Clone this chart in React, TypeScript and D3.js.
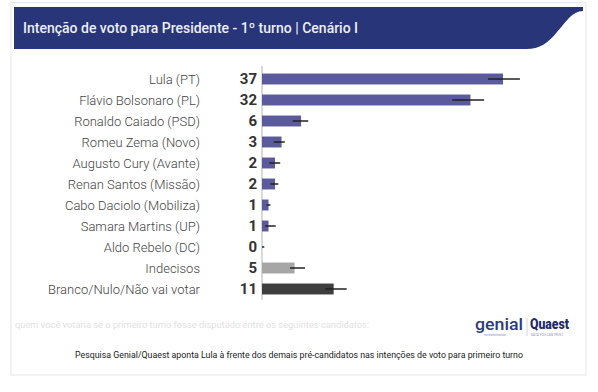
import * as d3 from 'd3'

const candidates = [
  'Lula (PT)',
  'Flávio Bolsonaro (PL)',
  'Ronaldo Caiado (PSD)',
  'Romeu Zema (Novo)',
  'Augusto Cury (Avante)',
  'Renan Santos (Missão)',
  'Cabo Daciolo (Mobiliza)',
  'Samara Martins (UP)',
  'Aldo Rebelo (DC)',
  'Indecisos',
  'Branco/Nulo/Não vai votar',
]
const values = [37, 32, 6, 3, 2, 2, 1, 1, 0, 5, 11]
const errLow = [34.7, 29.2, 4.7, 1.8, 1.1, 1.3, 0.7, 0.5, 0, 4.3, 9.7]
const errHigh = [39.6, 34.1, 7.1, 3.5, 2.8, 2.5, 1.3, 2.1, 0.35, 6.6, 13.0]
const barKind = ['c', 'c', 'c', 'c', 'c', 'c', 'c', 'c', 'c', 'undecided', 'blank']

const title = 'Intenção de voto para Presidente - 1º turno | Cenário I'
const question = 'quem você votaria se o primeiro turno fosse disputado entre os seguintes candidatos:'
const caption =
  'Pesquisa Genial/Quaest aponta Lula à frente dos demais pré-candidatos nas intenções de voto para primeiro turno'

const W = 598
const H = 392
const font = 'Roboto, "Noto Sans", sans-serif'

const colors: Record<string, string> = {
  c: '#5b5a9c',
  undecided: '#a6a6a6',
  blank: '#3e3e3e',
}

export default function App() {
  const x = d3.scaleLinear().domain([0, 37]).range([262, 503])
  const y = d3
    .scaleBand<string>()
    .domain(candidates)
    .range([68.5, 299.5])
    .paddingInner(0.48)
    .paddingOuter(0.24)
  const bw = y.bandwidth()

  // navy header with the wave on the right
  const header = d3.path()
  header.moveTo(14, 7)
  header.lineTo(583, 7)
  header.lineTo(583, 11)
  header.bezierCurveTo(572, 11, 566, 22, 557, 32)
  header.bezierCurveTo(548, 43, 540, 49, 526, 49)
  header.lineTo(14, 49)
  header.closePath()

  return (
    <svg
      width={W}
      height={H}
      style={{ position: 'absolute', left: 0, top: 0, background: '#fff' }}
      fontFamily={font}
    >
      <rect x={11} y={2.5} width={575} height={372.5} fill="#fff" stroke="#e6e6e6" />
      <path d={header.toString()} fill="#283579" />
      <text x={23} y={33} fill="#eceef6" fontSize={14} fontWeight={500}>
        {title}
      </text>

      {/* axis line */}
      <line x1={x(0)} x2={x(0)} y1={66} y2={300} stroke="#cccccc" strokeWidth={1.5} />

      {candidates.map((c, i) => {
        const cy = (y(c) ?? 0) + bw / 2
        return (
          <g key={c}>
            <text x={200} y={cy} dy="0.36em" textAnchor="end" fill="#444" fontSize={13} fontWeight={300}>
              {c}
            </text>
            <text
              x={257}
              y={cy}
              dy="0.36em"
              textAnchor="end"
              fill="#333"
              fontSize={15}
              fontWeight={700}
            >
              {values[i]}
            </text>
            <rect
              x={x(0)}
              y={y(c)}
              width={x(values[i]) - x(0)}
              height={bw}
              fill={colors[barKind[i]]}
            />
            <line
              x1={x(errLow[i])}
              x2={x(errHigh[i])}
              y1={cy}
              y2={cy}
              stroke="#222"
              strokeWidth={1.5}
            />
          </g>
        )
      })}

      <text x={15} y={328} fill="#e2e2e2" fontSize={9.3}>
        {question}
      </text>

      {/* logos */}
      <text x={475} y={330} fill="#2b3b80" fontSize={17} fontWeight={500} textLength={48} lengthAdjust="spacingAndGlyphs">
        genial
      </text>
      <text x={484} y={335.5} fill="#8a90b0" fontSize={3.5}>
        investimentos
      </text>
      <line x1={527} x2={527} y1={318} y2={336} stroke="#c8cad8" strokeWidth={0.8} />
      <text x={530} y={329} fill="#1f2a6b" fontSize={14} fontWeight={900} textLength={39} lengthAdjust="spacingAndGlyphs">
        Quaest
      </text>
      <text x={531} y={335.5} fill="#8a90b0" fontSize={3.2}>
        DATA YOU CAN TRUST
      </text>

      <text
        x={75}
        y={358}
        fill="#222"
        fontSize={9.5}
        textLength={448}
        lengthAdjust="spacingAndGlyphs"
      >
        {caption}
      </text>
    </svg>
  )
}
